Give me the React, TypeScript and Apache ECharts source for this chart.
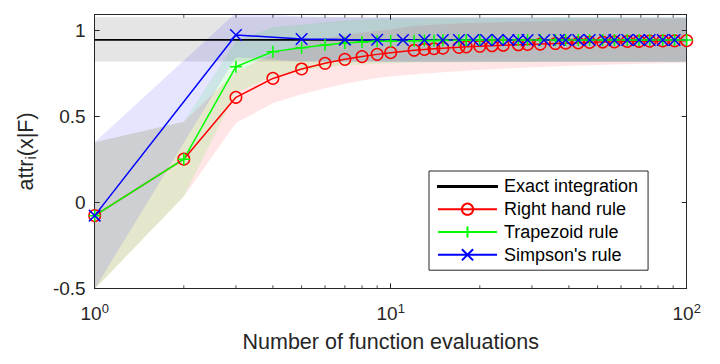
import React, { useEffect, useRef } from 'react';
import * as echarts from 'echarts';

const FONT = '"Liberation Sans", Arial, Helvetica, sans-serif';
const AXIS_COLOR = '#262626';

const X_MIN = 1;
const X_MAX = 100;
const Y_MIN = -0.5;
const Y_MAX = 1.093;
const Y_INTERVAL = 0.5;

const seriesNames = ['Exact integration', 'Right hand rule', 'Trapezoid rule', "Simpson's rule"];

// number of function evaluations
const nEval = [1, 2, 3, 4, 5, 6, 7, 8, 9, 10, 12, 13, 14, 15, 17, 18, 20, 22, 24, 27, 29, 32, 36, 39, 43, 47, 52, 57, 63, 69, 75, 83, 91, 100];
const nSimpson = [1, 3, 5, 7, 9, 11, 13, 15, 17, 19, 21, 23, 25, 27, 29, 33, 37, 39, 43, 47, 53, 57, 63, 69, 75, 83, 91, 101];

// exact integration
const exactX = [1, 100];
const exactValue = [0.946, 0.946];
const exactLower = [0.82, 0.82];
const exactUpper = [1.078, 1.078];

// right hand rule
const rightHand = [-0.077, 0.252, 0.612, 0.722, 0.777, 0.81, 0.833, 0.849, 0.862, 0.872, 0.886, 0.891, 0.895, 0.898, 0.903, 0.906, 0.909, 0.912, 0.915, 0.918, 0.92, 0.922, 0.925, 0.927, 0.929, 0.932, 0.934, 0.935, 0.937, 0.938, 0.939, 0.94, 0.941, 0.942];
const rightHandLower = [-0.504, 0.035, 0.462, 0.578, 0.63, 0.665, 0.69, 0.71, 0.724, 0.735, 0.745, 0.75, 0.754, 0.758, 0.764, 0.767, 0.772, 0.776, 0.779, 0.783, 0.786, 0.789, 0.792, 0.794, 0.797, 0.799, 0.801, 0.803, 0.805, 0.807, 0.809, 0.81, 0.812, 0.813];
const rightHandUpper = [0.35, 0.469, 0.762, 0.866, 0.924, 0.955, 0.976, 0.988, 1.0, 1.009, 1.027, 1.032, 1.036, 1.038, 1.042, 1.045, 1.046, 1.048, 1.051, 1.053, 1.054, 1.055, 1.058, 1.06, 1.061, 1.065, 1.067, 1.067, 1.069, 1.069, 1.069, 1.07, 1.07, 1.071];

// trapezoid rule
const trapezoid = [-0.077, 0.252, 0.79, 0.878, 0.9, 0.917, 0.928, 0.934, 0.938, 0.94, 0.942, 0.943, 0.943, 0.944, 0.944, 0.944, 0.945, 0.945, 0.945, 0.945, 0.945, 0.946, 0.946, 0.946, 0.946, 0.946, 0.946, 0.946, 0.946, 0.946, 0.946, 0.946, 0.946, 0.946];
const trapezoidLower = [-0.504, 0.035, 0.64, 0.735, 0.765, 0.785, 0.797, 0.803, 0.808, 0.811, 0.813, 0.814, 0.814, 0.815, 0.815, 0.815, 0.816, 0.816, 0.816, 0.816, 0.816, 0.817, 0.817, 0.817, 0.817, 0.817, 0.817, 0.817, 0.817, 0.817, 0.817, 0.817, 0.817, 0.817];
const trapezoidUpper = [0.35, 0.469, 0.94, 1.021, 1.035, 1.049, 1.059, 1.065, 1.068, 1.069, 1.071, 1.072, 1.072, 1.073, 1.073, 1.073, 1.074, 1.074, 1.074, 1.074, 1.074, 1.075, 1.075, 1.075, 1.075, 1.075, 1.075, 1.075, 1.075, 1.075, 1.075, 1.075, 1.075, 1.075];

// Simpson's rule
const simpson = [-0.077, 0.975, 0.951, 0.948, 0.947, 0.946, 0.946, 0.946, 0.946, 0.946, 0.946, 0.946, 0.946, 0.946, 0.946, 0.946, 0.946, 0.946, 0.946, 0.946, 0.946, 0.946, 0.946, 0.946, 0.946, 0.946, 0.946, 0.946];
const simpsonLower = [-0.504, 0.845, 0.82, 0.818, 0.817, 0.817, 0.817, 0.817, 0.817, 0.817, 0.817, 0.817, 0.817, 0.817, 0.817, 0.817, 0.817, 0.817, 0.817, 0.817, 0.817, 0.817, 0.817, 0.817, 0.817, 0.817, 0.817, 0.817];
const simpsonUpper = [0.35, 1.105, 1.082, 1.078, 1.077, 1.076, 1.076, 1.076, 1.076, 1.076, 1.076, 1.076, 1.076, 1.076, 1.076, 1.076, 1.076, 1.076, 1.076, 1.076, 1.076, 1.076, 1.076, 1.076, 1.076, 1.076, 1.076, 1.076];

// minor ticks on the log axis
const minorTicks = [2, 3, 4, 5, 6, 7, 8, 9, 20, 30, 40, 50, 60, 70, 80, 90];

const PLUS = 'path://M6,0L6,12M0,6L12,6';
const CROSS = 'path://M0,0L12,12M12,0L0,12';

function band(id: string, xs: number[], lo: number[], hi: number[], fill: string) {
  return {
    type: 'custom',
    id,
    silent: true,
    clip: true,
    z: 1,
    data: xs.map((x, i) => [x, lo[i], hi[i]]),
    encode: { x: 0, y: [1, 2] },
    renderItem: (params: any, api: any) => {
      if (params.dataIndex !== 0) return null;
      const upper = xs.map((x, i) => api.coord([x, hi[i]]));
      const lower = xs.map((x, i) => api.coord([x, lo[i]])).reverse();
      return { type: 'polygon', shape: { points: upper.concat(lower) }, style: { fill } };
    },
  };
}

function lineSeries(name: string, xs: number[], ys: number[], color: string, symbol: string, size: number, width: number) {
  return {
    type: 'line',
    name,
    z: 3,
    data: xs.map((x, i) => [x, ys[i]]),
    symbol,
    symbolSize: size,
    showSymbol: symbol !== 'none',
    lineStyle: { color, width },
    itemStyle: { color: 'rgba(0,0,0,0)', borderColor: color, borderWidth: 1.5 },
    emphasis: { disabled: true },
    silent: true,
  };
}

export default function App() {
  const ref = useRef<HTMLDivElement>(null);
  useEffect(() => {
    document.body.style.margin = '0';
    if (!ref.current) return;
    const chart = echarts.init(ref.current, undefined, { renderer: 'svg' });
    const tickStyle = { color: AXIS_COLOR, width: 1 };
    const option: any = {
      animation: false,
      backgroundColor: '#fff',
      textStyle: { fontFamily: FONT },
      grid: { left: 94.7, right: 33.3, top: 14.7, bottom: 75.7 },
      xAxis: [
        {
          type: 'log',
          logBase: 10,
          min: X_MIN,
          max: X_MAX,
          position: 'bottom',
          name: 'Number of function evaluations',
          nameLocation: 'middle',
          nameGap: 43,
          nameTextStyle: { fontFamily: FONT, fontSize: 21.5, color: AXIS_COLOR },
          axisLine: { show: true, onZero: false, lineStyle: tickStyle },
          axisTick: { show: true, inside: true, length: 5, lineStyle: tickStyle },
          axisLabel: {
            margin: 14,
            formatter: (v: number) => `{b|10}{s|${Math.round(Math.log10(v))}}`,
            rich: {
              b: { fontFamily: FONT, fontSize: 19, color: AXIS_COLOR },
              s: { fontFamily: FONT, fontSize: 13, color: AXIS_COLOR, padding: [0, 0, 9, 0] },
            },
          },
          splitLine: { show: false },
        },
        {
          type: 'log',
          logBase: 10,
          min: X_MIN,
          max: X_MAX,
          position: 'top',
          axisLine: { show: true, onZero: false, lineStyle: tickStyle },
          axisTick: { show: true, inside: true, length: 5, lineStyle: tickStyle },
          axisLabel: { show: false },
          splitLine: { show: false },
        },
      ],
      yAxis: [
        {
          type: 'value',
          min: Y_MIN,
          max: Y_MAX,
          interval: Y_INTERVAL,
          position: 'left',
          name: 'attr{sub|i}(x|F)',
          nameLocation: 'middle',
          nameGap: 56,
          nameTextStyle: {
            fontFamily: FONT,
            fontSize: 21.5,
            color: AXIS_COLOR,
            rich: { sub: { fontFamily: FONT, fontSize: 14.5, color: AXIS_COLOR, padding: [10, 0, 0, 0] } },
          },
          axisLine: { show: true, onZero: false, lineStyle: tickStyle },
          axisTick: { show: true, inside: true, length: 5, lineStyle: tickStyle },
          axisLabel: {
            margin: 9,
            fontFamily: FONT,
            fontSize: 19,
            color: AXIS_COLOR,
            formatter: (v: number) => (Math.abs(v / Y_INTERVAL - Math.round(v / Y_INTERVAL)) > 1e-6 ? '' : String(Math.round(v * 10) / 10)),
          },
          splitLine: { show: false },
        },
        {
          type: 'value',
          min: Y_MIN,
          max: Y_MAX,
          interval: Y_INTERVAL,
          position: 'right',
          axisLine: { show: true, onZero: false, lineStyle: tickStyle },
          axisTick: { show: true, inside: true, length: 5, lineStyle: tickStyle },
          axisLabel: { show: false },
          splitLine: { show: false },
        },
      ],
      legend: {
        orient: 'vertical',
        left: 429,
        top: 171,
        itemWidth: 59,
        itemHeight: 14,
        itemGap: 0,
        padding: [4, 10, 4, 8],
        backgroundColor: '#fff',
        borderColor: AXIS_COLOR,
        borderWidth: 1,
        borderRadius: 0,
        selectedMode: false,
        textStyle: { fontFamily: FONT, fontSize: 18, color: '#000', lineHeight: 22.8, padding: [0, 0, 0, 2] },
        data: [
          { name: seriesNames[0], icon: 'path://M0,0L60,0L60,1L0,1Z' },
          seriesNames[1],
          seriesNames[2],
          seriesNames[3],
        ],
      },
      series: [
        band('bandExact', exactX, exactLower, exactUpper, 'rgba(0,0,0,0.1)'),
        band('bandRight', nEval, rightHandLower, rightHandUpper, 'rgba(255,0,0,0.1)'),
        band('bandTrap', nEval, trapezoidLower, trapezoidUpper, 'rgba(0,255,0,0.1)'),
        band('bandSimp', nSimpson, simpsonLower, simpsonUpper, 'rgba(0,0,255,0.1)'),
        lineSeries(seriesNames[0], exactX, exactValue, '#000000', 'none', 0, 1.8),
        lineSeries(seriesNames[1], nEval, rightHand, '#ff0000', 'circle', 11.5, 1.5),
        lineSeries(seriesNames[2], nEval, trapezoid, '#00ff00', PLUS, 12, 1.5),
        lineSeries(seriesNames[3], nSimpson, simpson, '#0000ff', CROSS, 11.5, 1.5),
        {
          type: 'scatter',
          silent: true,
          clip: false,
          z: 5,
          data: minorTicks.map((x) => [x, Y_MIN]),
          symbol: 'rect',
          symbolSize: [1, 3],
          symbolOffset: [0, -1.5],
          itemStyle: { color: AXIS_COLOR },
        },
        {
          type: 'scatter',
          silent: true,
          clip: false,
          z: 5,
          data: minorTicks.map((x) => [x, Y_MAX]),
          symbol: 'rect',
          symbolSize: [1, 3],
          symbolOffset: [0, 1.5],
          itemStyle: { color: AXIS_COLOR },
        },
      ],
    };
    chart.setOption(option);
    return () => chart.dispose();
  }, []);
  return (
    <div
      ref={ref}
      style={{ position: 'fixed', left: 0, top: 0, width: 720, height: 364, background: '#fff' }}
    />
  );
}
